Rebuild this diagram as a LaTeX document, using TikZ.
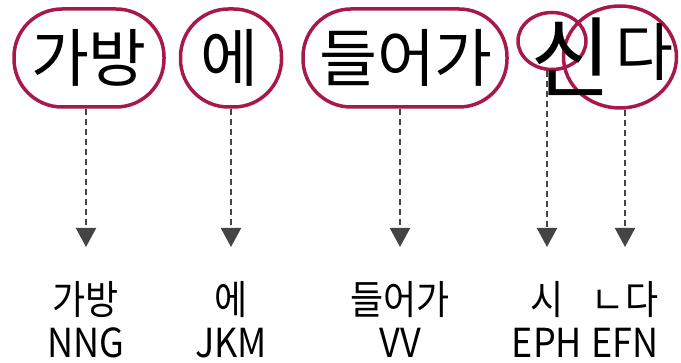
\documentclass[tikz,border=0pt]{standalone}
\usepackage{fontspec}
\setmainfont{Noto Sans CJK KR}
\newfontfamily\labfont[FakeStretch=0.9]{Noto Sans CJK KR}
\usetikzlibrary{arrows.meta,shapes.geometric}
\definecolor{ringc}{HTML}{A8184C}
\definecolor{arrc}{HTML}{444444}
\begin{document}
\begin{tikzpicture}[x=1pt,y=-1pt,
  ringline/.style={draw=ringc, line width=3.5pt},
  capsule/.style={ringline, rounded corners=48pt, inner sep=0pt},
  oval/.style={ringline, ellipse, inner sep=0pt},
  big/.style={font=\fontsize{63}{63}\selectfont, inner sep=0pt},
  lab/.style={font=\labfont\fontsize{40}{44}\selectfont, inner sep=0pt},
  conn/.style={draw=arrc, line width=2pt, dash pattern=on 6pt off 4pt, -{Triangle[width=20pt,length=19pt]}}]
\useasboundingbox (0,0) rectangle (681,363);
% rings
\node[capsule, minimum width=150pt, minimum height=98pt] (c1) at (89,58) {};
\node[capsule, minimum width=101pt, minimum height=98pt] (c2) at (231,58) {};
\node[capsule, minimum width=204pt, minimum height=98pt] (c3) at (405,58) {};
\node[oval, minimum width=68pt, minimum height=57pt] (c4) at (552,41) {};
\node[oval, minimum width=113pt, minimum height=102pt] (c5) at (620,57) {};
% top text
\node[big] (w1) at (89,58) {가방};
\node[big] (w2) at (229,58) {에};
\node[big] (w3) at (406,58) {들어가};
\node[font=\fontsize{88}{88}\selectfont, inner sep=0pt] (w4) at (571,57) {신};
\node[big] (w5) at (644,52) {다};
% arrow ends
\coordinate (t1) at (86,247);
\coordinate (t2) at (231,247);
\coordinate (t3) at (400,247);
\coordinate (t4) at (547,247);
\coordinate (t5) at (625,247);
\draw[conn] (c1.south -| t1) -- (t1);
\draw[conn] (c2.south -| t2) -- (t2);
\draw[conn] (c3.south -| t3) -- (t3);
\draw[conn] (c4.south -| t4) -- (t4);
\draw[conn] (c5.south -| t5) -- (t5);
% labels
\node[lab] (k1) at (86,300) {가방};
\node[lab] (k2) at (231,300) {에};
\node[lab] (k3) at (400,300) {들어가};
\node[lab] (k4) at (547,300) {시};
\node[lab] (k5) at (625,300) {ㄴ다};
\node[lab] (p1) at (86,343) {NNG};
\node[lab] (p2) at (231,343) {JKM};
\node[lab] (p3) at (400,343) {VV};
\node[lab] (p4) at (547,343) {EPH};
\node[lab] (p5) at (625,343) {EFN};
\end{tikzpicture}
\end{document}
